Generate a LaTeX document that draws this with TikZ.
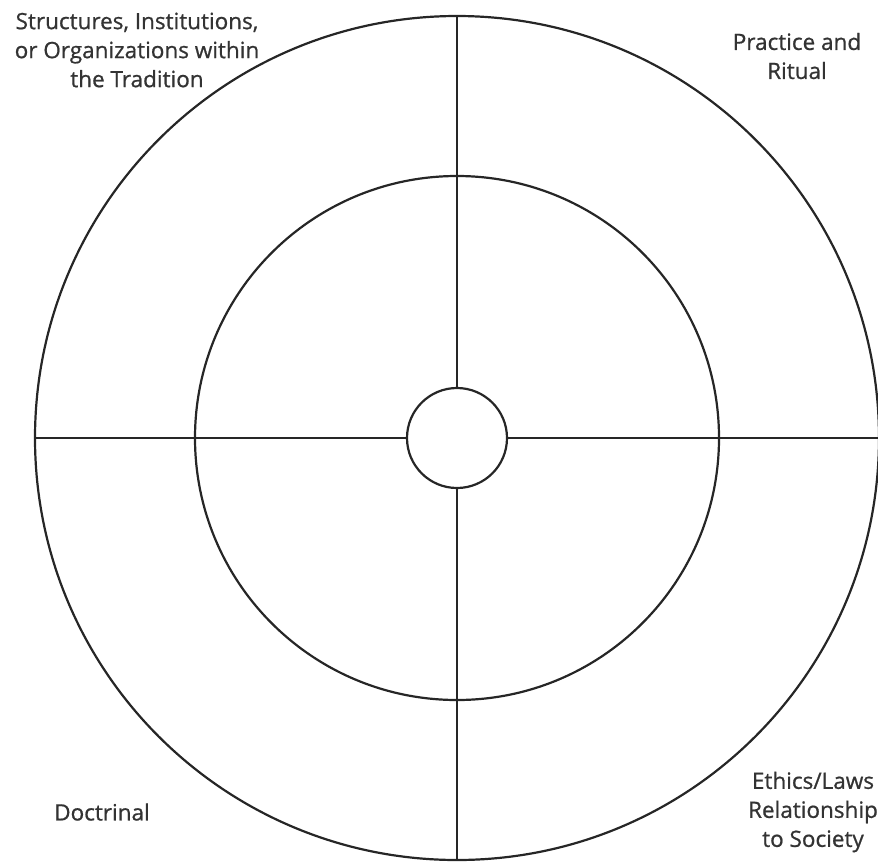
\documentclass[tikz,border=0pt]{standalone}
\usepackage{fontspec}
\setmainfont{Open Sans}
\newfontfamily\capfont{Open Sans}[FakeBold=0.8]
\begin{document}
\begin{tikzpicture}[x=1pt,y=-1pt,
  ring/.style={draw=black!85,line width=2.2pt},
  spoke/.style={draw=black!85,line width=2.2pt},
  caption/.style={align=center,font=\capfont\fontsize{22.5}{29}\selectfont,text=black!80,inner sep=0pt}]
  \useasboundingbox (0,0) rectangle (878,863);
  % concentric rings
  \coordinate (c) at (457,438);
  \node[ring,circle,minimum size=844pt,inner sep=0pt] (outer) at (c) {};
  \node[ring,circle,minimum size=524pt,inner sep=0pt] (inner) at (c) {};
  \node[ring,circle,minimum size=100pt,inner sep=0pt] (hub) at (c) {};
  % four spokes from the hub to the outer ring
  \draw[spoke] (hub.north) -- (outer.north);
  \draw[spoke] (hub.south) -- (outer.south);
  \draw[spoke] (hub.west) -- (outer.west);
  \draw[spoke] (hub.east) -- (outer.east);
  % quadrant captions
  \node[caption] (structures) at (137,50) {Structures, Institutions,\\or Organizations within\\the Tradition};
  \node[caption] (practice) at (797,56) {Practice and\\Ritual};
  \node[caption] (doctrinal) at (102,812) {Doctrinal};
  \node[caption] (ethics) at (813,812) {Ethics/Laws\\Relationship\\to Society};
\end{tikzpicture}
\end{document}
